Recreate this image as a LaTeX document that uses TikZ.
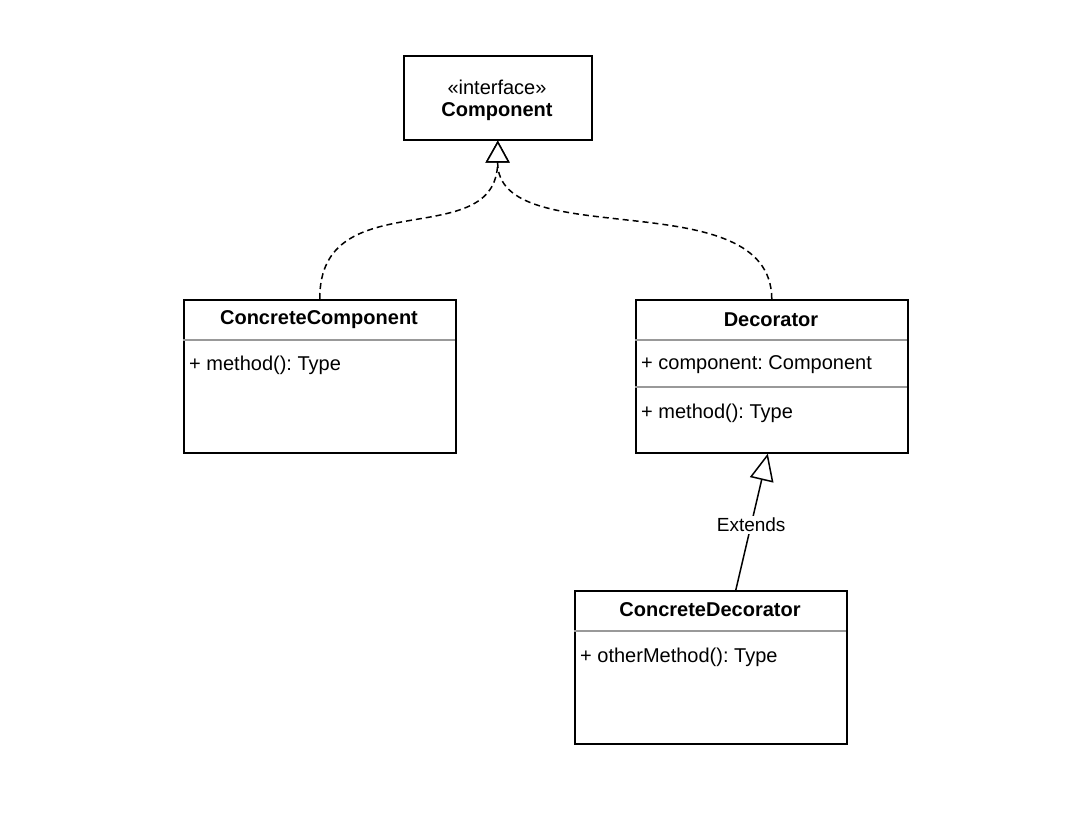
\documentclass[tikz,border=0pt]{standalone}
\usepackage{fontspec}
\setmainfont{Liberation Sans}
\usetikzlibrary{arrows.meta}
\frenchspacing
\begin{document}
\begin{tikzpicture}[x=1pt,y=-1pt,
  every node/.style={font=\fontsize{20}{25}\selectfont, inner sep=0pt},
  classbox/.style={draw=black, line width=1.6pt, rectangle, anchor=north west},
  sep/.style={draw=black!40, line width=1.4pt},
  title/.style={font=\fontsize{20}{25}\selectfont\bfseries},
  member/.style={anchor=west},
  realize/.style={line width=1.5pt, dash pattern=on 6pt off 4pt, -{Triangle[open, length=22pt, width=24pt, line width=1.5pt, fill=white]}},
  inherit/.style={line width=1.5pt, -{Triangle[open, length=27pt, width=24pt, line width=1.5pt, fill=white]}}
]
\useasboundingbox (0,0) rectangle (1092,824);

% Component interface
\node[classbox, minimum width=188pt, minimum height=84pt] (comp) at (403,55) {};
\node (compstereo) at (497,87) {«interface»};
\node[title] (comptitle) at (497,112) {Component};

% ConcreteComponent
\node[classbox, minimum width=272pt, minimum height=153pt] (cc) at (183,299) {};
\node[title] (cctitle) at (319,320) {ConcreteComponent};
\draw[sep] (183,340) -- (455,340);
\node[member] (ccm) at (189,365) {+ method(): Type};

% Decorator
\node[classbox, minimum width=272pt, minimum height=153pt] (dec) at (635,299) {};
\node[title] (dectitle) at (771,320) {Decorator};
\draw[sep] (635,340) -- (907,340);
\node[member] (deca) at (641,365) {+ component: Component};
\draw[sep] (635,387) -- (907,387);
\node[member] (decm) at (641,413) {+ method(): Type};

% ConcreteDecorator
\node[classbox, minimum width=272pt, minimum height=153pt] (cd) at (574,590) {};
\node[title] (cdtitle) at (710,610) {ConcreteDecorator};
\draw[sep] (574,631) -- (846,631);
\node[member] (cdm) at (580,657) {+ otherMethod(): Type};

% Realization connectors
\draw[realize] (cc.north) .. controls (319,180) and (497,255) .. (comp.south);
\draw[realize] (dec.north) .. controls (771,180) and (497,255) .. (comp.south);

% Extends
\draw[inherit] ([xshift=25pt]cd.north) -- ([xshift=-4pt]dec.south)
  node[pos=0.48, fill=white, inner sep=2pt, font=\fontsize{19}{23}\selectfont] (extlbl) {Extends};

\end{tikzpicture}
\end{document}
